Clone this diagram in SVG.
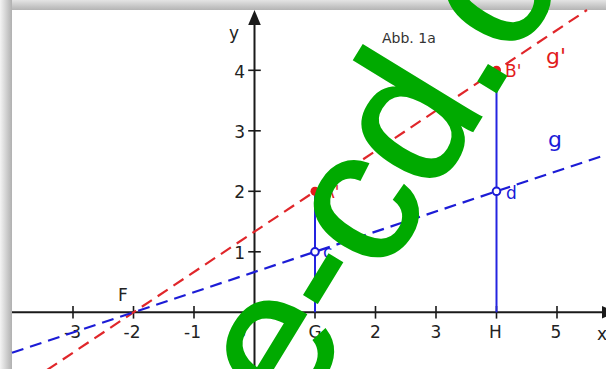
<svg xmlns="http://www.w3.org/2000/svg" width="606" height="369" viewBox="0 0 606 369">
<defs>
<linearGradient id="gt" x1="0" y1="0" x2="0" y2="1"><stop offset="0" stop-color="#e4e4e4"/><stop offset="1" stop-color="#b4b4b4"/></linearGradient>
<linearGradient id="gl" x1="0" y1="0" x2="1" y2="0"><stop offset="0" stop-color="#f4f4f4"/><stop offset="1" stop-color="#b0b0b0"/></linearGradient>
<style>
.ax{stroke:#1a1a1a;stroke-width:2;fill:none}
.tk{stroke:#1a1a1a;stroke-width:1.6}
.lbl{font-family:"DejaVu Sans",Verdana,sans-serif;font-size:17px;fill:#222}
.xl{text-anchor:middle}
.yl{text-anchor:end}
.red{fill:#e21b1b}
.blue{fill:#1a1ad8}
.dr{stroke:#e0262a;stroke-width:2.2;stroke-dasharray:12 7;fill:none}
.db{stroke:#1c1cd6;stroke-width:2.2;stroke-dasharray:12 7;fill:none}
.vl{stroke:#2424e0;stroke-width:2;fill:none}
.wm{font-family:"Liberation Sans",Arial,sans-serif;font-size:190px;fill:#00aa00;stroke:#00aa00;stroke-width:2.5}
</style>
</defs>
<rect x="0" y="0" width="606" height="10" fill="url(#gt)"/>
<rect x="0" y="0" width="12" height="369" fill="url(#gl)"/>
<rect x="12" y="10" width="594" height="359" fill="#ffffff"/>
<g id="axes">
<line class="ax" x1="12" y1="312.3" x2="602" y2="312.3"/>
<polygon points="602,306 602,318.6 616,312.3" fill="#1a1a1a"/>
<line class="ax" x1="254.5" y1="369" x2="254.5" y2="24"/>
<polygon points="248.2,25 260.8,25 254.5,10" fill="#1a1a1a"/>
<g>
<line class="tk" x1="73" y1="306" x2="73" y2="318.6"/>
<line class="tk" x1="133.5" y1="306" x2="133.5" y2="318.6"/>
<line class="tk" x1="194" y1="306" x2="194" y2="318.6"/>
<line class="tk" x1="315" y1="306" x2="315" y2="318.6"/>
<line class="tk" x1="375.5" y1="306" x2="375.5" y2="318.6"/>
<line class="tk" x1="436" y1="306" x2="436" y2="318.6"/>
<line class="tk" x1="496.5" y1="306" x2="496.5" y2="318.6"/>
<line class="tk" x1="557" y1="306" x2="557" y2="318.6"/>
<line class="tk" x1="248.2" y1="251.8" x2="260.8" y2="251.8"/>
<line class="tk" x1="248.2" y1="191.3" x2="260.8" y2="191.3"/>
<line class="tk" x1="248.2" y1="130.8" x2="260.8" y2="130.8"/>
<line class="tk" x1="248.2" y1="70.3" x2="260.8" y2="70.3"/>
</g>
<text class="lbl xl" x="72.5" y="338">-3</text>
<text class="lbl xl" x="132" y="338">-2</text>
<text class="lbl xl" x="192.5" y="338">-1</text>
<text class="lbl xl" x="241" y="338">0</text>
<text class="lbl xl" x="315" y="338">G</text>
<text class="lbl xl" x="375.5" y="338">2</text>
<text class="lbl xl" x="436" y="338">3</text>
<text class="lbl xl" x="495.5" y="338">H</text>
<text class="lbl xl" x="556" y="338">5</text>
<text class="lbl" x="597" y="340">x</text>
<text class="lbl yl" x="245" y="258.5">1</text>
<text class="lbl yl" x="245" y="198">2</text>
<text class="lbl yl" x="245" y="137.5">3</text>
<text class="lbl yl" x="245" y="77.5">4</text>
<text class="lbl" x="229" y="39">y</text>
<text class="lbl" x="118" y="301">F</text>
<text class="lbl" x="382" y="43" style="font-size:14px;fill:#333">Abb. 1a</text>
</g>
<g id="connectors">
<line class="dr" x1="47" y1="370" x2="587" y2="10"/>
<line class="db" x1="12" y1="352.8" x2="606" y2="154.8"/>
<line class="vl" x1="315" y1="312.3" x2="315" y2="191.3"/>
<line class="vl" x1="496.5" y1="312.3" x2="496.5" y2="70.3"/>
</g>
<g id="A1"><circle cx="315" cy="191.3" r="4.5" class="red"/><text class="lbl red" x="323" y="198">A'</text></g>
<g id="B1"><circle cx="496.5" cy="70.3" r="4.5" class="red"/><text class="lbl red" x="505" y="77">B'</text></g>
<g id="c"><circle cx="315" cy="251.8" r="3.8" fill="#fff" stroke="#1c1cd6" stroke-width="2"/><text class="lbl blue" x="323" y="258">c</text></g>
<g id="d"><circle cx="496.5" cy="191.3" r="3.8" fill="#fff" stroke="#1c1cd6" stroke-width="2"/><text class="lbl blue" x="506" y="199">d</text></g>
<g id="gp"><text class="lbl red" x="546" y="64" style="font-size:22px">g'</text></g>
<g id="g"><text class="lbl blue" x="548" y="147" style="font-size:22px">g</text></g>
<text class="wm" transform="translate(294.7,422.1) rotate(-58.6)">e-cd.c</text>
</svg>
